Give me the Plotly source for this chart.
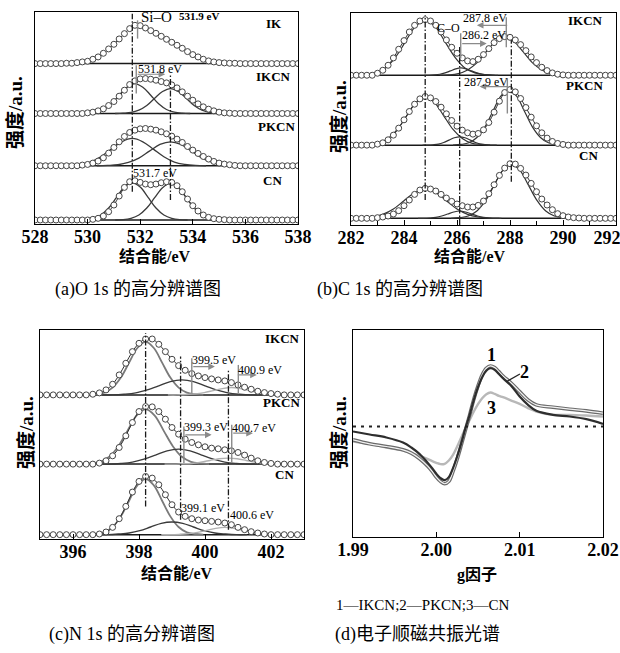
import numpy as np
import plotly.graph_objects as go

# ================= DATA =================
# ---- (a) O 1s ----
a_energy = np.round(np.linspace(528.0, 538.0, 51), 2)
a_IK = [0,0,0,0,0,0,1,1,3,5,7,13,20,31,44,58,74,90,105,115,114,107,99,91,82,73,64,55,46,36,27,20,13,8,5,3,2,1,1,0,
        0,0,0,0,0,0,0,0,0,0,0]
a_IKCN = [0,0,0,0,0,0,0,0,0,0,
          2,4,8,14,24,36,52,70,87,98,104,105,103,100,96,92,86,77,65,52,40,29,20,13,8,4,2,1,
          0,0,0,0,0,0,0,0,0,0,0,0,0]
a_PKCN = [0,0,0,0,0,0,0,0,0,
          2,4,8,14,24,38,55,72,88,100,107,111,112,110,107,102,96,89,80,70,58,47,37,28,20,13,8,5,3,1,
          0,0,0,0,0,0,0,0,0,0,0,0]
a_CN = [0,0,0,0,0,0,0,0,0,0,0,
        2,5,12,25,45,72,98,115,118,113,108,106,108,112,115,113,103,85,63,43,27,15,8,4,2,1,
        0,0,0,0,0,0,0,0,0,0,0,0,0,0]
a_IKCN_comp_x = [[529.7,530.0,530.3,530.6,530.9,531.2,531.5,531.8,532.1,532.4,532.7,533.0,533.3,533.6,533.9],
                 [531.05,531.35,531.65,531.95,532.25,532.55,532.85,533.15,533.45,533.75,534.05,534.35,534.65,534.95,535.25]]
a_IKCN_comp_y = [[0,1,4,12,29,55,79,90,79,55,29,12,4,1,0],
                 [0,1,3,10,24,46,66,75,66,46,24,10,3,1,0]]
a_PKCN_comp_x = [[528.9,529.3,529.7,530.1,530.5,530.9,531.3,531.7,532.1,532.5,532.9,533.3,533.7,534.1,534.5],
                 [530.35,530.75,531.15,531.55,531.95,532.35,532.75,533.15,533.55,533.95,534.35,534.75,535.15,535.55,535.95]]
a_PKCN_comp_y = [[0,1,4,11,27,50,72,82,72,50,27,11,4,1,0],
                 [0,1,3,10,23,44,64,72,64,44,23,10,3,1,0]]
a_CN_comp_x = [[529.6,529.9,530.2,530.5,530.8,531.1,531.4,531.7,532.0,532.3,532.6,532.9,533.2,533.5,533.8],
               [531.05,531.35,531.65,531.95,532.25,532.55,532.85,533.15,533.45,533.75,534.05,534.35,534.65,534.95,535.25]]
a_CN_comp_y = [[0,1,5,15,36,68,99,112,99,68,36,15,5,1,0],
               [0,1,5,15,36,67,97,110,97,67,36,15,5,1,0]]
a_peaks = [531.7, 533.15]
a_ticks = [528, 530, 532, 534, 536, 538]

# ---- (b) C 1s ----
b_energy = np.round(np.linspace(282.0, 292.0, 51), 2)
b_IKCN = [0,0,0,0,0,
          6,15,30,52,78,104,130,150,163,167,163,150,130,106,84,66,52,43,41,48,62,80,98,110,116,114,106,92,74,55,38,24,14,7,3,1,
          0,0,0,0,0,0,0,0,0,0]
b_PKCN = [0,0,0,0,0,
          3,7,16,30,51,76,101,123,139,146,142,131,114,94,74,57,45,37,33,35,46,68,99,132,158,167,160,140,113,84,58,37,21,11,5,2,
          0,0,0,0,0,0,0,0,0,0]
b_CN = [0,0,0,0,0,
        2,4,7,13,23,38,55,72,85,90,88,82,72,61,51,43,38,34,34,39,52,74,101,129,151,164,163,150,130,105,80,58,40,26,14,8,4,2,1,
        0,0,0,0,0,0,0]
b_IKCN_comp_x = [[282.175,282.55,282.925,283.3,283.675,284.05,284.425,284.8,285.175,285.55,285.925,286.3,286.675,287.05,287.425],
                 [284.75,284.95,285.15,285.35,285.55,285.75,285.95,286.15,286.35,286.55,286.75,286.95,287.15,287.35,287.55],
                 [285.35,285.7,286.05,286.4,286.75,287.1,287.45,287.8,288.15,288.5,288.85,289.2,289.55,289.9,290.25]]
b_IKCN_comp_y = [[0,2,7,22,54,100,146,165,146,100,54,22,7,2,0],
                 [0,0,1,3,7,13,19,22,19,13,7,3,1,0,0],
                 [0,1,5,16,37,70,101,115,101,70,37,16,5,1,0]]
b_PKCN_comp_x = [[282.35,282.7,283.05,283.4,283.75,284.1,284.45,284.8,285.15,285.5,285.85,286.2,286.55,286.9,287.25],
                 [284.7,284.9,285.1,285.3,285.5,285.7,285.9,286.1,286.3,286.5,286.7,286.9,287.1,287.3,287.5],
                 [285.85,286.15,286.45,286.75,287.05,287.35,287.65,287.95,288.25,288.55,288.85,289.15,289.45,289.75,290.05]]
b_PKCN_comp_y = [[0,2,6,20,47,88,128,145,128,88,47,20,6,2,0],
                 [0,0,1,3,8,15,22,25,22,15,8,3,1,0,0],
                 [0,2,7,23,54,101,147,167,147,101,54,23,7,2,0]]
b_CN_comp_x = [[282.0,282.4,282.8,283.2,283.6,284.0,284.4,284.8,285.2,285.6,286.0,286.4,286.8,287.2,287.6],
               [284.525,284.75,284.975,285.2,285.425,285.65,285.875,286.1,286.325,286.55,286.775,287.0,287.225,287.45,287.675],
               [285.775,286.1,286.425,286.75,287.075,287.4,287.725,288.05,288.375,288.7,289.025,289.35,289.675,290.0,290.325]]
b_CN_comp_y = [[0,1,4,12,28,53,77,87,77,53,28,12,4,1,0],
               [0,0,1,3,7,13,19,22,19,13,7,3,1,0,0],
               [0,2,7,22,53,99,144,163,144,99,53,22,7,2,0]]
b_peaks = [284.8, 286.1, 288.05]
b_ticks = [282, 284, 286, 288, 290, 292]

# ---- (c) N 1s ----
c_energy = np.round(np.linspace(395.0, 403.0, 41), 2)
c_IKCN = [0,0,0,0,0,0,0,0,
          2,6,15,32,60,95,130,155,168,168,152,130,107,88,74,64,57,52,48,45,42,37,30,23,17,11,7,4,2,
          0,0,0,0]
c_PKCN = [0,0,0,0,0,0,0,0,0,
          3,10,25,50,85,125,158,173,172,158,135,110,90,75,65,58,52,48,46,43,40,35,27,18,10,5,2,
          0,0,0,0,0]
c_CN = [0,0,0,0,0,0,0,0,0,
        2,8,22,48,85,128,160,175,170,150,120,90,68,55,48,44,42,40,38,35,30,22,15,9,5,2,
        0,0,0,0,0,0]
c_IKCN_comp_x = [[396.45,396.7,396.95,397.2,397.45,397.7,397.95,398.2,398.45,398.7,398.95,399.2,399.45,399.7,399.95],
                 [396.85,397.2,397.55,397.9,398.25,398.6,398.95,399.3,399.65,400.0,400.35,400.7,401.05,401.4,401.75],
                 [398.875,399.15,399.425,399.7,399.975,400.25,400.525,400.8,401.075,401.35,401.625,401.9,402.175,402.45,402.725]]
c_IKCN_comp_y = [[0,2,7,22,52,97,141,160,141,97,52,22,7,2,0],
                 [0,0,2,6,15,27,40,45,40,27,15,6,2,0,0],
                 [0,0,1,3,7,13,19,22,19,13,7,3,1,0,0]]
c_PKCN_comp_x = [[396.275,396.55,396.825,397.1,397.375,397.65,397.925,398.2,398.475,398.75,399.025,399.3,399.575,399.85,400.125],
                 [396.75,397.1,397.45,397.8,398.15,398.5,398.85,399.2,399.55,399.9,400.25,400.6,400.95,401.3,401.65],
                 [398.775,399.05,399.325,399.6,399.875,400.15,400.425,400.7,400.975,401.25,401.525,401.8,402.075,402.35,402.625]]
c_PKCN_comp_y = [[0,2,7,22,54,100,146,165,146,100,54,22,7,2,0],
                 [0,0,2,6,15,27,40,45,40,27,15,6,2,0,0],
                 [0,0,1,2,6,11,16,18,16,11,6,2,1,0,0]]
c_CN_comp_x = [[396.45,396.7,396.95,397.2,397.45,397.7,397.95,398.2,398.45,398.7,398.95,399.2,399.45,399.7,399.95],
               [396.725,397.05,397.375,397.7,398.025,398.35,398.675,399.0,399.325,399.65,399.975,400.3,400.625,400.95,401.275],
               [398.675,398.95,399.225,399.5,399.775,400.05,400.325,400.6,400.875,401.15,401.425,401.7,401.975,402.25,402.525]]
c_CN_comp_y = [[0,2,7,23,55,102,148,168,148,102,55,23,7,2,0],
               [0,0,2,5,12,23,34,38,34,23,12,5,2,0,0],
               [0,0,1,3,7,13,19,22,19,13,7,3,1,0,0]]
c_peaks = [398.2, 399.26, 400.71]
c_ticks = [396, 398, 400, 402]

# ---- (d) EPR ----
d_g = [1.990,1.992,1.994,1.996,1.997,1.998,1.999,1.9995,2.000,2.0005,2.001,2.0015,2.002,2.0025,2.003,2.0035,
       2.004,2.0045,2.005,2.0055,2.006,2.0065,2.007,2.0075,2.008,2.009,2.010,2.011,2.012,2.014,2.016,2.018,2.020]
d_IKCN = [-15,-24,-33,-48,-63,-83,-110,-125,-142,-155,-161,-152,-125,-90,-50,-5,35,80,118,148,168,175,170,158,145,122,90,65,47,35,30,22,8]
d_PKCN = [-40,-52,-60,-70,-80,-97,-120,-135,-152,-165,-172,-165,-135,-98,-55,-10,35,82,122,155,175,182,177,165,152,130,105,80,65,58,52,47,40]
d_CN = [-45,-52,-63,-72,-80,-88,-98,-104,-109,-113,-112,-102,-85,-60,-32,-5,20,45,67,85,97,102,98,92,88,78,68,55,45,35,35,33,30]
d_ticks = [1.99, 2.00, 2.01, 2.02]

# ================= FIGURE =================
W, H = 620, 653
SERIF = "Liberation Serif, Noto Sans CJK SC, serif"
fig = go.Figure()


def ax_names(n):
    return ('x', 'y') if n == 1 else (f'x{n}', f'y{n}')


def add_spectrum(n, x, y, off, comps_x, comps_y, comp_colors, comp_widths):
    xa, ya = ax_names(n)
    fig.add_trace(go.Scatter(x=[x[0], x[-1]], y=[off, off], mode='lines',
                             line=dict(color='#1a1a1a', width=1.5), xaxis=xa, yaxis=ya, hoverinfo='skip'))
    for cx, cy, col, w in zip(comps_x, comps_y, comp_colors, comp_widths):
        fig.add_trace(go.Scatter(x=cx, y=[v + off for v in cy], mode='lines',
                                 line=dict(color=col, width=w, shape='spline', smoothing=1.0),
                                 xaxis=xa, yaxis=ya, hoverinfo='skip'))
    fig.add_trace(go.Scatter(x=x, y=[v + off for v in y], mode='lines',
                             line=dict(color='#2a2a2a', width=1, shape='spline'),
                             xaxis=xa, yaxis=ya, hoverinfo='skip'))
    fig.add_trace(go.Scatter(x=x, y=[v + off for v in y], mode='markers',
                             marker=dict(symbol='circle', size=6, color='white',
                                         line=dict(color='#444444', width=1)),
                             xaxis=xa, yaxis=ya, hoverinfo='skip'))


shapes = []
annos = []


def vline(n, x, y0, y1, dash='6px,2px,1.5px,2px', color='#1a1a1a', width=1.3):
    xa, ya = ax_names(n)
    shapes.append(dict(type='line', xref=xa, yref=ya, x0=x, x1=x, y0=y0, y1=y1,
                       line=dict(color=color, width=width, dash=dash)))


def gline(n, x, y0, y1):
    vline(n, x, y0, y1, dash='solid', color='#8a8a8a', width=1.4)


def arrow(n, x0, x1, y):
    xa, ya = ax_names(n)
    annos.append(dict(x=x1, y=y, ax=x0, ay=y, xref=xa, yref=ya, axref=xa, ayref=ya, text='',
                      showarrow=True, arrowhead=2, arrowsize=1.1, arrowwidth=1.2, arrowcolor='#8a8a8a'))


def txt(n, x, y, s, size=12, bold=False, xanchor='center', family=SERIF):
    xa, ya = ax_names(n)
    annos.append(dict(x=x, y=y, xref=xa, yref=ya, text=s, showarrow=False, xanchor=xanchor, yanchor='middle',
                      font=dict(family=family, size=size, color='black', weight='bold' if bold else 'normal')))


def ptxt(px, py, s, size=16, bold=False, angle=0):
    annos.append(dict(x=px / W, y=1 - py / H, xref='paper', yref='paper', text=s, showarrow=False,
                      xanchor='center', yanchor='middle', textangle=angle,
                      font=dict(family=SERIF, size=size, color='black', weight='bold' if bold else 'normal')))


# ---------- (a) ----------
comp_a = ['#3a3a3a', '#3a3a3a']
wa = [1.3, 1.3]
add_spectrum(1, a_energy, a_CN, 12, a_CN_comp_x, a_CN_comp_y, comp_a, wa)
add_spectrum(1, a_energy, a_PKCN, 175, a_PKCN_comp_x, a_PKCN_comp_y, comp_a, wa)
add_spectrum(1, a_energy, a_IKCN, 332, a_IKCN_comp_x, a_IKCN_comp_y, comp_a, wa)
add_spectrum(1, a_energy, a_IK, 482, [], [], [], [])
vline(1, a_peaks[0], 97, 632)
vline(1, a_peaks[1], 72, 447)
gline(1, 531.9, 557, 612)
gline(1, 531.85, 392, 477)
arrow(1, 531.85, 532.95, 450)
txt(1, 532.62, 621, 'Si–O', size=15)
txt(1, 534.25, 624, '531.9 eV', size=11, bold=True)
txt(1, 532.75, 465, '531.8 eV', size=12)
txt(1, 532.56, 153, '531.7 eV', size=12)
txt(1, 537.45, 602, 'IK', size=13, bold=True, xanchor='right')
txt(1, 537.8, 444, 'IKCN', size=13, bold=True, xanchor='right')
txt(1, 537.97, 292, 'PKCN', size=13, bold=True, xanchor='right')
txt(1, 537.45, 132, 'CN', size=13, bold=True, xanchor='right')

# ---------- (b) ----------
comp_b = ['#333333', '#333333', '#333333']
wb = [1.2, 1.2, 1.2]
add_spectrum(2, b_energy, b_CN, 20, b_CN_comp_x, b_CN_comp_y, comp_b, wb)
add_spectrum(2, b_energy, b_PKCN, 240, b_PKCN_comp_x, b_PKCN_comp_y, comp_b, wb)
add_spectrum(2, b_energy, b_IKCN, 450, b_IKCN_comp_x, b_IKCN_comp_y, comp_b, wb)
vline(2, b_peaks[0], 75, 630)
vline(2, b_peaks[1], 0, 535)
vline(2, b_peaks[2], 130, 555)
gline(2, 287.86, 534, 624)
arrow(2, 287.95, 286.75, 600)
gline(2, 286.14, 500, 576)
arrow(2, 286.14, 287.12, 545)
gline(2, 287.9, 335, 440)
arrow(2, 287.95, 286.85, 416)
txt(2, 287.04, 621, '287.8 eV', size=12)
txt(2, 287.0, 570, '286.2 eV', size=12)
txt(2, 285.69, 591, 'C–O', size=12)
txt(2, 287.11, 430, '287.9 eV', size=12)
txt(2, 291.6, 613, 'IKCN', size=13, bold=True, xanchor='right')
txt(2, 291.6, 420, 'PKCN', size=13, bold=True, xanchor='right')
txt(2, 291.4, 210, 'CN', size=13, bold=True, xanchor='right')

# ---------- (c) ----------
comp_c = ['#7a7a7a', '#3a3a3a', '#b0b0b0']
wc = [1.8, 1.4, 1.4]
add_spectrum(3, c_energy, c_CN, 13, c_CN_comp_x, c_CN_comp_y, comp_c, wc)
add_spectrum(3, c_energy, c_PKCN, 225, c_PKCN_comp_x, c_PKCN_comp_y, comp_c, wc)
add_spectrum(3, c_energy, c_IKCN, 433, c_IKCN_comp_x, c_IKCN_comp_y, comp_c, wc)
vline(3, c_peaks[0], 98, 618)
vline(3, c_peaks[1], 58, 548)
vline(3, c_peaks[2], 28, 508)
gline(3, 399.6, 438, 543)
arrow(3, 399.6, 400.3, 518)
gline(3, 401.01, 438, 523)
arrow(3, 400.95, 401.57, 493)
gline(3, 399.36, 228, 338)
arrow(3, 399.36, 400.2, 313)
gline(3, 400.81, 228, 343)
arrow(3, 400.81, 401.45, 318)
txt(3, 400.27, 538, '399.5 eV', size=12)
txt(3, 401.67, 508, '400.9 eV', size=12)
txt(3, 400.02, 338, '399.3 eV', size=12)
txt(3, 401.48, 333, '400.7 eV', size=12)
txt(3, 399.95, 93, '399.1 eV', size=12)
txt(3, 401.41, 73, '400.6 eV', size=12)
txt(3, 402.93, 603, 'IKCN', size=13, bold=True, xanchor='right')
txt(3, 402.93, 410, 'PKCN', size=13, bold=True, xanchor='right')
txt(3, 402.75, 193, 'CN', size=13, bold=True, xanchor='right')

# ---------- (d) ----------
fig.add_trace(go.Scatter(x=d_g, y=d_CN, mode='lines', line=dict(color='#b8b8b8', width=2.4, shape='spline'),
                         xaxis='x4', yaxis='y4', hoverinfo='skip'))
fig.add_trace(go.Scatter(x=d_g, y=d_PKCN, mode='lines', line=dict(color='#6a6a6a', width=3.6, shape='spline'),
                         xaxis='x4', yaxis='y4', hoverinfo='skip'))
fig.add_trace(go.Scatter(x=d_g, y=d_PKCN, mode='lines', line=dict(color='#f2f2f2', width=1.2, shape='spline'),
                         xaxis='x4', yaxis='y4', hoverinfo='skip'))
fig.add_trace(go.Scatter(x=d_g, y=d_IKCN, mode='lines', line=dict(color='#2e2e2e', width=2.2, shape='spline'),
                         xaxis='x4', yaxis='y4', hoverinfo='skip'))
shapes.append(dict(type='line', xref='x4', yref='y4', x0=d_g[0], x1=d_g[-1], y0=0, y1=0,
                   line=dict(color='#222', width=2, dash='3px,5px')))
shapes.append(dict(type='line', xref='x4', yref='y4', x0=2.01003, x1=2.00843, y0=158, y1=135,
                   line=dict(color='#222', width=1.2)))
txt(4, 2.00664, 215, '1', size=18, bold=True)
txt(4, 2.01063, 165, '2', size=18, bold=True)
txt(4, 2.00664, 55, '3', size=18, bold=True)

# ---------- titles & captions ----------
ptxt(155, 256, '结合能/eV', size=16, bold=True)
ptxt(470, 256, '结合能/eV', size=16, bold=True)
ptxt(177, 573, '结合能/eV', size=16, bold=True)
ptxt(477, 575, 'g因子', size=16, bold=True)
ptxt(15, 113, '强度/a.u.', size=19, bold=True, angle=-90)
ptxt(339, 117, '强度/a.u.', size=19, bold=True, angle=-90)
ptxt(26, 433, '强度/a.u.', size=19, bold=True, angle=-90)
ptxt(339, 433, '强度/a.u.', size=19, bold=True, angle=-90)
ptxt(138, 289, '(a)O 1s 的高分辨谱图', size=18)
ptxt(400, 289, '(b)C 1s 的高分辨谱图', size=18)
ptxt(423, 605, '1—IKCN;2—PKCN;3—CN', size=15)
ptxt(132, 634, '(c)N 1s 的高分辨谱图', size=18)
ptxt(417, 634, '(d)电子顺磁共振光谱', size=18)


def xaxis(dom, rng, tv, tt, anchor, minor=None):
    d = dict(domain=dom, range=rng, tickvals=tv, ticktext=['<b>%s</b>' % t for t in tt],
             ticks='inside', ticklen=5, tickwidth=1.2, tickcolor='black',
             showline=True, mirror=True, linecolor='black', linewidth=1.3, showgrid=False, zeroline=False,
             anchor=anchor, ticklabelstandoff=-4, automargin=False, ticklabeloverflow='allow',
             tickfont=dict(family='Liberation Serif', size=18, color='black'))
    if minor:
        d['minor'] = minor
    return d


def yaxis(dom, rng, anchor):
    return dict(domain=dom, range=rng, showticklabels=False, ticks='', showline=True, mirror=True,
                linecolor='black', linewidth=1.3, showgrid=False, zeroline=False, anchor=anchor,
                automargin=False)


b_ticktext = [str(t) for t in b_ticks]
b_ticktext[-1] = '292&nbsp;&nbsp;&nbsp;&nbsp;'
d_ticktext = ['%.2f' % t for t in d_ticks]

fig.update_layout(
    width=W, height=H, margin=dict(l=0, r=0, t=0, b=0, autoexpand=False),
    paper_bgcolor='white', plot_bgcolor='white', showlegend=False,
    xaxis=xaxis([35 / W, 298 / W], [528, 538], a_ticks, [str(t) for t in a_ticks], 'y'),
    yaxis=yaxis([1 - 224 / H, 1 - 12 / H], [0, 637], 'x'),
    xaxis2=xaxis([351 / W, 616 / W], [282, 292], b_ticks, b_ticktext, 'y2',
                 minor=dict(dtick=1, ticks='inside', ticklen=4, tickcolor='black')),
    yaxis2=yaxis([1 - 225 / H, 1 - 13 / H], [0, 637], 'x2'),
    xaxis3=xaxis([40 / W, 304 / W], [395, 403], c_ticks, [str(t) for t in c_ticks], 'y3'),
    yaxis3=yaxis([1 - 539 / H, 1 - 330 / H], [0, 628], 'x3'),
    xaxis4=xaxis([353 / W, 603 / W], [1.99, 2.02], d_ticks, d_ticktext, 'y4'),
    yaxis4=yaxis([1 - 537 / H, 1 - 330 / H], [-332, 290], 'x4'),
    shapes=shapes, annotations=annos,
)

fig.write_html("out.html", config={'displayModeBar': False},
               post_script="document.body.style.margin='0px';document.body.style.padding='0px';")
